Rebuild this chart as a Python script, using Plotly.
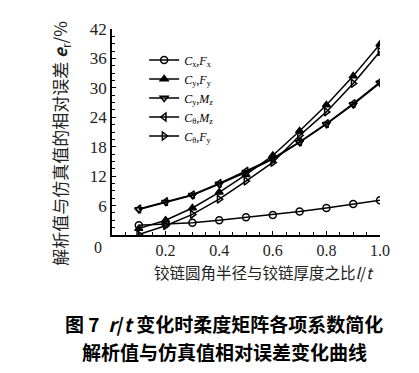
import plotly.graph_objects as go

# data
ratio = [0.1, 0.2, 0.3, 0.4, 0.5, 0.6, 0.7, 0.8, 0.9, 1.0]
cx_fx = [2.0, 2.3, 2.5, 3.0, 3.6, 4.1, 4.8, 5.5, 6.3, 7.1]
cy_fy = [1.3, 3.0, 5.5, 8.7, 12.3, 16.2, 21.2, 26.5, 32.4, 38.9]
cy_mz = [5.2, 6.7, 8.1, 10.4, 12.8, 15.5, 18.9, 22.6, 26.6, 31.0]
ct_mz = [5.3, 6.8, 8.2, 10.5, 13.0, 15.6, 19.0, 22.7, 26.8, 31.2]
ct_fy = [0.1, 1.9, 4.2, 7.3, 11.0, 14.8, 20.3, 25.1, 30.9, 37.4]

series_names = [
    "<i>C</i><sub>x</sub>,<i>F</i><sub>x</sub>",
    "<i>C</i><sub>y</sub>,<i>F</i><sub>y</sub>",
    "<i>C</i><sub>y</sub>,<i>M</i><sub>z</sub>",
    "<i>C</i><sub>θ</sub>,<i>M</i><sub>z</sub>",
    "<i>C</i><sub>θ</sub>,<i>F</i><sub>y</sub>",
]
series_values = [cx_fx, cy_fy, cy_mz, ct_mz, ct_fy]
symbols = ["circle-open", "triangle-up", "triangle-down-open", "triangle-left-open", "triangle-right-open"]

x_tickvals = [0.2, 0.4, 0.6, 0.8, 1.0]
x_ticktext = ["0.2", "0.4", "0.6", "0.8", "1.0"]
y_tickvals = [6, 12, 18, 24, 30, 36, 42]
y_ticktext = ["6", "12", "18", "24", "30", "36", "42"]

fig = go.Figure()
for name, vals, sym in zip(series_names, series_values, symbols):
    fig.add_trace(go.Scatter(
        x=ratio, y=vals, name=name, mode="lines+markers",
        line=dict(color="black", width=1.5),
        marker=dict(symbol=sym, size=7, color="black", line=dict(color="black", width=1.5)),
    ))

W, H = 419, 373
L, R, T, B = 104, 47, 21, 145.5

tickfont = dict(family="Liberation Serif, DejaVu Serif, serif", size=17, color="#222")

fig.update_layout(
    width=W, height=H,
    margin=dict(l=L, r=R, t=T, b=B),
    paper_bgcolor="white", plot_bgcolor="white",
    showlegend=True,
    legend=dict(
        x=0.12, y=0.92, xanchor="left", yanchor="top",
        font=dict(family="Liberation Serif, serif", size=12, color="black"),
        bgcolor="rgba(0,0,0,0)", tracegroupgap=0, itemwidth=30,
    ),
    xaxis=dict(
        range=[0, 1.0], showgrid=False, zeroline=False,
        showline=True, linecolor="black", linewidth=1.5,
        tickmode="array", tickvals=x_tickvals, ticktext=x_ticktext,
        ticks="inside", ticklen=4, tickwidth=1.2, tickcolor="black",
        minor=dict(dtick=0.05, ticks="inside", ticklen=3, tickwidth=1.2, tickcolor="black"),
        tickfont=dict(family="Liberation Serif, DejaVu Serif, serif", size=16, color="#222"),
    ),
    yaxis=dict(
        range=[0, 42], showgrid=False, zeroline=False,
        showline=True, linecolor="black", linewidth=1.5,
        tickmode="array", tickvals=y_tickvals, ticktext=y_ticktext,
        ticks="inside", ticklen=4, tickwidth=1.2, tickcolor="black",
        minor=dict(dtick=1.5, ticks="inside", ticklen=3, tickwidth=1.2, tickcolor="black"),
        tickfont=tickfont,
    ),
)

pw = W - L - R
ph = H - T - B

def px_x(p):
    return (p - L) / pw

def px_y(p):
    return (H - B - p) / ph

cjk = "Noto Sans CJK SC, sans-serif"

# origin label
fig.add_annotation(xref="paper", yref="paper", x=px_x(90), y=px_y(240), text="0",
                   showarrow=False, font=dict(family="Liberation Serif, serif", size=16, color="#222"),
                   xanchor="center", yanchor="middle")

# y axis title
fig.add_annotation(xref="paper", yref="paper", x=px_x(53), y=px_y(136),
                   text="解析值与仿真值的相对误差 <b><i>e</i></b><sub>r</sub>/%",
                   textangle=-90, showarrow=False,
                   font=dict(family=cjk, size=17, color="#222"),
                   xanchor="center", yanchor="middle")

# x axis title
fig.add_annotation(xref="paper", yref="paper", x=px_x(256), y=px_y(265),
                   text="铰链圆角半径与铰链厚度之比<i>l</i>/<i>t</i>",
                   showarrow=False, font=dict(family=cjk, size=15.5, color="#222"),
                   xanchor="center", yanchor="middle")

# caption
fig.add_annotation(xref="paper", yref="paper", x=px_x(216), y=px_y(316),
                   text="<b>图 7  <i>r</i>/<i>t</i> 变化时柔度矩阵各项系数简化</b>",
                   showarrow=False, font=dict(family=cjk, size=19, color="black"),
                   xanchor="center", yanchor="middle")
fig.add_annotation(xref="paper", yref="paper", x=px_x(216), y=px_y(344),
                   text="<b>解析值与仿真值相对误差变化曲线</b>",
                   showarrow=False, font=dict(family=cjk, size=19, color="black"),
                   xanchor="center", yanchor="middle")

fig.write_html("out.html")
